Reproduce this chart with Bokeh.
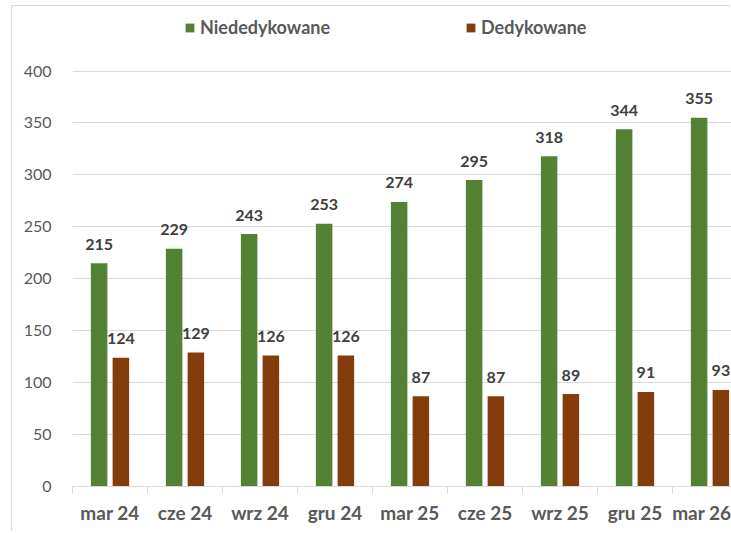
from bokeh.plotting import figure
from bokeh.models import (ColumnDataSource, Range1d, FixedTicker, Legend, LegendItem)
from bokeh.transform import dodge
from bokeh.core.properties import value
from bokeh.embed import file_html
from bokeh.resources import INLINE

categories = ["mar 24", "cze 24", "wrz 24", "gru 24", "mar 25", "cze 25", "wrz 25", "gru 25", "mar 26"]
niededykowane = [215, 229, 243, 253, 274, 295, 318, 344, 355]
dedykowane = [124, 129, 126, 126, 87, 87, 89, 91, 93]
y_ticks = [0, 50, 100, 150, 200, 250, 300, 350, 400]

GREEN = "#548235"
BROWN = "#843C0C"
GRID = "#d9d9d9"
TXT = "#595959"
LBL = "#404040"
FONT = "Lato"

centers = [i + 0.5 for i in range(len(categories))]
src = ColumnDataSource(dict(
    x=centers,
    n=niededykowane,
    d=dedykowane,
    nt=[str(v) for v in niededykowane],
    dt=[str(v) for v in dedykowane],
))

# figure placed at page (12, 6); chart border drawn as a box-shadow
W, H = 719, 526
LEFT = 60
BOTTOM = 46
px_per_cat = 75.0
x_end = (W - LEFT) / px_per_cat
frame_h = H - BOTTOM               # frame spans whole height above the axis
px_per_unit = 415.5 / 400.0
y_end = frame_h / px_per_unit

p = figure(width=W, height=H, output_backend="svg", toolbar_location=None,
           x_range=Range1d(0, x_end), y_range=Range1d(0, y_end),
           min_border_left=LEFT, min_border_right=0, min_border_top=0,
           min_border_bottom=BOTTOM)
p.outline_line_color = None
p.background_fill_color = "white"
p.border_fill_color = "white"
p.styles = {"margin-left": "12px", "margin-top": "6px",
            "box-shadow": "-1px -1px 0 0 #d9d9d9"}

w = 0.22
rg = p.vbar(x=dodge("x", -0.145, range=p.x_range), top="n", width=w, source=src,
            fill_color=GREEN, line_color=None)
rb = p.vbar(x=dodge("x", 0.145, range=p.x_range), top="d", width=w, source=src,
            fill_color=BROWN, line_color=None)

for col, off in (("n", -0.145), ("d", 0.145)):
    p.text(x=dodge("x", off, range=p.x_range), y=col, text=col + "t", source=src,
           text_align="center", text_baseline="middle", y_offset=-19,
           text_font=value(FONT), text_font_style="bold", text_font_size="16px",
           text_color=LBL)

# x axis
xa = p.xaxis[0]
xa.ticker = FixedTicker(ticks=centers, minor_ticks=list(range(len(categories) + 1)))
xa.major_label_overrides = {c: lab for c, lab in zip(centers, categories)}
xa.major_tick_line_color = None
xa.major_tick_out = 0
xa.major_tick_in = 0
xa.minor_tick_line_color = GRID
xa.minor_tick_out = 7
xa.minor_tick_in = 0
xa.axis_line_color = GRID
xa.major_label_standoff = 7
xa.major_label_text_font = FONT
xa.major_label_text_font_style = "bold"
xa.major_label_text_font_size = "19px"
xa.major_label_text_color = TXT

# y axis
ya = p.yaxis[0]
ya.ticker = FixedTicker(ticks=y_ticks)
ya.axis_line_color = None
ya.major_tick_line_color = None
ya.minor_tick_line_color = None
ya.major_label_standoff = 15
ya.major_label_text_font = FONT
ya.major_label_text_font_size = "16px"
ya.major_label_text_color = TXT

p.xgrid.grid_line_color = None
p.ygrid.grid_line_color = GRID
p.ygrid.ticker = FixedTicker(ticks=y_ticks)

legend_kw = dict(orientation="horizontal", padding=0, margin=0,
                 glyph_width=11, glyph_height=11, label_standoff=5,
                 label_height=20,
                 label_text_font=FONT, label_text_font_style="bold",
                 label_text_font_size="18px", label_text_color=TXT,
                 background_fill_alpha=0, border_line_color=None)
frame_bottom_page = 6 + frame_h
legend_bottom_page = 38
leg1 = Legend(items=[LegendItem(label="Niededykowane", renderers=[rg])],
              location=(184 - 72, frame_bottom_page - legend_bottom_page), **legend_kw)
leg2 = Legend(items=[LegendItem(label="Dedykowane", renderers=[rb])],
              location=(465 - 72, frame_bottom_page - legend_bottom_page), **legend_kw)
p.add_layout(leg1, "center")
p.add_layout(leg2, "center")

open("out.html", "w").write(file_html(p, INLINE))
